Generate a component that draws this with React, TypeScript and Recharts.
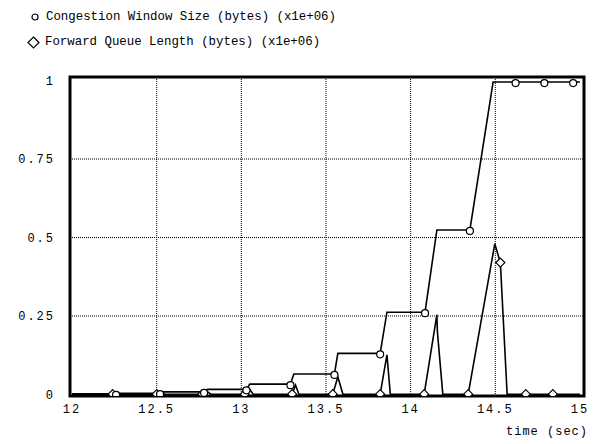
import React from "react";
import { LineChart, Line, XAxis, YAxis, ReferenceLine, ReferenceArea } from "recharts";

// congestion window (x1e+06 bytes) over time (sec)
const cwndTime = [
  12.0, 12.26, 12.28, 12.52, 12.54, 12.78, 12.8, 13.03, 13.05, 13.29, 13.31,
  13.55, 13.57, 13.82, 13.86, 14.085, 14.155, 14.35, 14.487, 14.62, 14.79, 14.96, 15.0,
];
const cwndValue = [
  0.002, 0.002, 0.0041, 0.0041, 0.0082, 0.0082, 0.0164, 0.0164, 0.033, 0.033, 0.0655,
  0.0655, 0.131, 0.131, 0.262, 0.262, 0.524, 0.524, 0.995, 0.995, 0.995, 0.995, 0.995,
];
const cwndMark = [0, 1, 0, 1, 0, 1, 0, 1, 0, 1, 0, 1, 0, 1, 0, 1, 0, 1, 0, 1, 1, 1, 0];

// forward queue length (x1e+06 bytes)
const queueTime = [
  12.0, 12.24, 12.27, 12.29, 12.5, 12.53, 12.55, 12.77, 12.8, 12.82, 13.02, 13.05,
  13.07, 13.3, 13.32, 13.34, 13.54, 13.57, 13.6, 13.82, 13.86, 13.88, 14.08, 14.155,
  14.158, 14.19, 14.34, 14.497, 14.53, 14.57, 14.68, 14.84, 15.0,
];
const queueValue = [
  0.001, 0.001, 0.003, 0.001, 0.001, 0.005, 0.001, 0.001, 0.009, 0.001, 0.001, 0.016,
  0.001, 0.001, 0.03, 0.001, 0.001, 0.056, 0.001, 0.001, 0.126, 0.001, 0.001, 0.254,
  0.2, 0.001, 0.001, 0.48, 0.42, 0.001, 0.001, 0.001, 0.001,
];
const queueMark = [
  0, 1, 0, 0, 1, 0, 0, 1, 0, 0, 1, 0, 0, 1, 0, 0, 1, 0, 0, 1, 0, 0, 1, 0,
  0, 0, 1, 0, 1, 0, 1, 1, 0,
];

const xTicks = [12, 12.5, 13, 13.5, 14, 14.5, 15];
const yTicks = [0, 0.25, 0.5, 0.75, 1];
const xGrid = [12.5, 13, 13.5, 14, 14.5];
const yGrid = [0.25, 0.5, 0.75];
const legendLabels = [
  "Congestion Window Size (bytes) (x1e+06)",
  "Forward Queue Length (bytes) (x1e+06)",
];

const X_MIN = 11.988;
const X_MAX = 15.024;
const Y_MIN = -0.0048;
const Y_MAX = 1.0111;

const FONT = "'Liberation Mono', 'DejaVu Sans Mono', monospace";

const cwndData = cwndTime.map((t, i) => ({ t, v: cwndValue[i], mark: cwndMark[i] === 1 }));
const queueData = queueTime.map((t, i) => ({ t, v: queueValue[i], mark: queueMark[i] === 1 }));

function CircleDot(props: any) {
  const { cx, cy, payload } = props;
  if (cx == null || cy == null || !payload?.mark) return null;
  return <circle cx={cx} cy={cy + 1} r={3.5} fill="#fff" stroke="#000" strokeWidth={1.2} />;
}

function DiamondDot(props: any) {
  const { cx, cy, payload } = props;
  if (cx == null || cy == null || !payload?.mark) return null;
  const s = 4.5;
  return (
    <path
      d={`M${cx},${cy - s} L${cx + s},${cy} L${cx},${cy + s} L${cx - s},${cy} Z`}
      fill="#fff"
      stroke="#000"
      strokeWidth={1.2}
    />
  );
}

const tickStyle = { fontFamily: FONT, fontSize: 12, fill: "#000", letterSpacing: 2 };

export default function App() {
  return (
    <div style={{ position: "absolute", left: 0, top: 0, width: 597, height: 444, background: "#fff" }}>
      <div style={{ position: "absolute", left: 0, top: 0, fontFamily: FONT, fontSize: 12.4, color: "#000" }}>
        <div style={{ position: "absolute", left: 30, top: 10, whiteSpace: "nowrap", display: "flex", alignItems: "center" }}>
          <svg width={10} height={10} style={{ marginRight: 6 }}>
            <circle cx={5} cy={5} r={3} fill="#fff" stroke="#000" strokeWidth={1.2} />
          </svg>
          <span>{legendLabels[0]}</span>
        </div>
        <div style={{ position: "absolute", left: 27, top: 35, whiteSpace: "nowrap", display: "flex", alignItems: "center" }}>
          <svg width={13} height={13} style={{ marginRight: 5 }}>
            <path d="M6.5,1 L12,6.5 L6.5,12 L1,6.5 Z" fill="#fff" stroke="#000" strokeWidth={1.2} />
          </svg>
          <span>{legendLabels[1]}</span>
        </div>
      </div>
      <div style={{ position: "absolute", left: 0, top: 0 }}>
        <LineChart width={597} height={444} margin={{ top: 77, right: 13, bottom: 18, left: 0 }}>
          <XAxis
            type="number"
            dataKey="t"
            domain={[X_MIN, X_MAX]}
            ticks={xTicks}
            allowDataOverflow
            axisLine={false}
            tickLine={false}
            tickSize={0}
            tickMargin={8}
            height={30}
            tick={tickStyle}
          />
          <YAxis
            type="number"
            dataKey="v"
            domain={[Y_MIN, Y_MAX]}
            ticks={yTicks}
            allowDataOverflow
            axisLine={false}
            tickLine={false}
            tickSize={0}
            tickMargin={15}
            width={70}
            tick={tickStyle}
          />
          {xGrid.map((x) => (
            <ReferenceLine key={`gx${x}`} x={x} stroke="#000" strokeDasharray="1 1" strokeWidth={1} />
          ))}
          {yGrid.map((y) => (
            <ReferenceLine key={`gy${y}`} y={y} stroke="#000" strokeDasharray="1 1" strokeWidth={1} />
          ))}
          <Line
            data={queueData}
            dataKey="v"
            type="linear"
            stroke="#000"
            strokeWidth={1.6}
            dot={<DiamondDot />}
            activeDot={false}
            isAnimationActive={false}
          />
          <Line
            data={cwndData}
            dataKey="v"
            type="linear"
            stroke="#000"
            strokeWidth={1.6}
            dot={<CircleDot />}
            activeDot={false}
            isAnimationActive={false}
          />
          <ReferenceArea
            x1={X_MIN}
            x2={X_MAX}
            y1={Y_MIN}
            y2={Y_MAX}
            fill="none"
            fillOpacity={0}
            stroke="#000"
            strokeWidth={3}
          />
        </LineChart>
      </div>
      <div
        style={{
          position: "absolute",
          right: 9,
          top: 425,
          fontFamily: FONT,
          fontSize: 12,
          letterSpacing: 1,
          color: "#000",
          whiteSpace: "nowrap",
        }}
      >
        time (sec)
      </div>
    </div>
  );
}
